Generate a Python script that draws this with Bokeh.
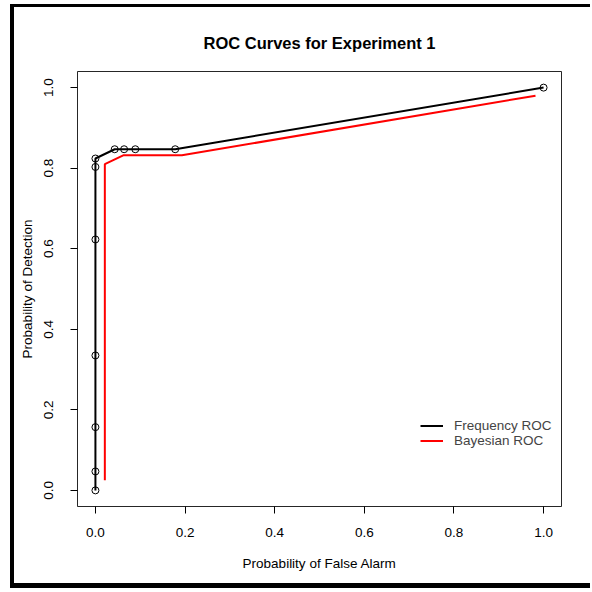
from bokeh.plotting import figure
from bokeh.models import FixedTicker, Range1d, Legend, LegendItem, PrintfTickFormatter
from bokeh.embed import file_html
from bokeh.resources import INLINE

# Data
freq_x = [0.0, 0.0, 0.0, 0.0, 0.0, 0.0, 0.0, 0.043, 0.064, 0.089, 0.178, 1.0]
freq_y = [0.0, 0.047, 0.157, 0.335, 0.623, 0.803, 0.824, 0.847, 0.847, 0.847, 0.847, 1.0]
bayes_x = [0.021, 0.021, 0.062, 0.193, 0.982]
bayes_y = [0.025, 0.81, 0.832, 0.832, 0.98]
ticks = [0.0, 0.2, 0.4, 0.6, 0.8, 1.0]

FONT = "Liberation Sans"
W, H = 576, 576

p = figure(width=W, height=H, output_backend="svg", toolbar_location=None,
           x_range=Range1d(-0.04, 1.04), y_range=Range1d(-0.04, 1.04),
           min_border_left=63, min_border_right=29, min_border_top=64, min_border_bottom=77)

# outer black frame (left, top and bottom bars) drawn as box shadows of the plot element
p.styles = {
    "margin-left": "14px",
    "margin-top": "7px",
    "box-shadow": ("-4px 0 0 0 black, 0 -3px 0 0 black, 0 5px 0 0 black, "
                   "-4px -3px 0 0 black, -4px 5px 0 0 black"),
}

p.title.text = "ROC Curves for Experiment 1"
p.title.align = "center"
p.title.text_font = FONT
p.title.text_font_size = "16.5px"
p.title.text_font_style = "bold"
p.title.text_color = "black"
p.title.offset = 0
p.title.standoff = 39

p.xgrid.visible = False
p.ygrid.visible = False
p.outline_line_color = "black"
p.outline_line_width = 1
p.outline_line_alpha = 0.85

for ax in (p.xaxis[0], p.yaxis[0]):
    ax.ticker = FixedTicker(ticks=ticks)
    ax.formatter = PrintfTickFormatter(format="%.1f")
    ax.minor_tick_line_color = None
    ax.major_tick_out = 7
    ax.major_tick_in = 0
    ax.axis_line_color = None
    ax.major_tick_line_color = "black"
    ax.major_label_text_font = FONT
    ax.major_label_text_font_size = "13.5px"
    ax.major_label_text_color = "black"
    ax.axis_label_text_font = FONT
    ax.axis_label_text_font_size = "13.5px"
    ax.axis_label_text_font_style = "normal"
    ax.axis_label_text_color = "black"

p.xaxis[0].axis_label = "Probability of False Alarm"
p.yaxis[0].axis_label = "Probability of Detection"
p.xaxis[0].major_label_standoff = 14
p.xaxis[0].axis_label_standoff = 16
p.yaxis[0].major_label_orientation = "vertical"
p.yaxis[0].major_label_standoff = 17
p.yaxis[0].axis_label_standoff = 7

r_freq = p.line(freq_x, freq_y, line_color="black", line_width=2)
p.scatter(freq_x, freq_y, marker="circle", size=7, fill_color=None,
          line_color="black", line_width=1)
r_bayes = p.line(bayes_x, bayes_y, line_color="red", line_width=2)

legend = Legend(items=[LegendItem(label="Frequency ROC", renderers=[r_freq]),
                       LegendItem(label="Bayesian ROC", renderers=[r_bayes])],
                location=(343, 58), padding=0, margin=0, spacing=0,
                glyph_width=23, glyph_height=15, label_height=15,
                label_standoff=11, border_line_alpha=0, background_fill_alpha=0,
                label_text_font=FONT, label_text_font_size="13.5px")
p.add_layout(legend)

open("out.html", "w").write(file_html(p, INLINE))
